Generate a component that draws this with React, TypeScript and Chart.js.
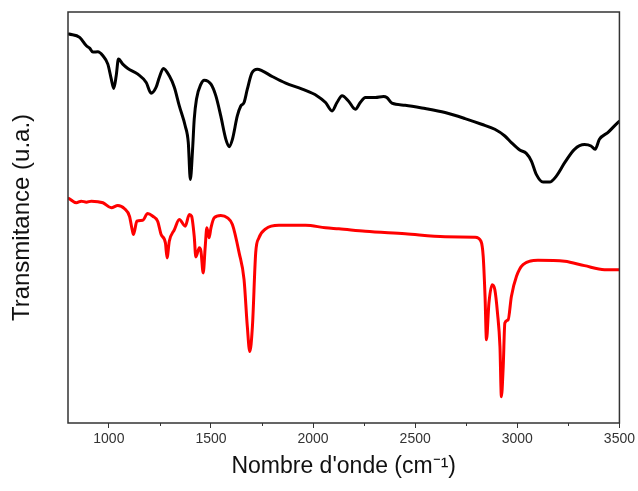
import React, { useEffect, useRef } from "react";
import { Chart, registerables } from "chart.js";

Chart.register(...registerables);

// Tick values (cm-1)
const X_TICKS = [1000, 1500, 2000, 2500, 3000, 3500];
const X_MINOR_TICKS = [1250, 1750, 2250, 2750, 3250];

// Black spectrum (wavenumber, transmittance u.a.)
const BLACK_X = [805, 857, 890, 906, 922, 946, 971, 995, 1012, 1024, 1036, 1047, 1068, 1093, 1142, 1183, 1207, 1231, 1247, 1267, 1296, 1321, 1345, 1374, 1389, 1399, 1410, 1418, 1429, 1451, 1467, 1500, 1524, 1548, 1573, 1589, 1605, 1629, 1646, 1662, 1678, 1700, 1727, 1751, 1800, 1866, 1947, 2020, 2061, 2093, 2117, 2142, 2174, 2207, 2231, 2256, 2305, 2345, 2361, 2386, 2451, 2549, 2646, 2744, 2825, 2890, 2939, 2971, 3012, 3044, 3069, 3093, 3126, 3158, 3191, 3232, 3280, 3329, 3361, 3381, 3402, 3443, 3492, 3500];
const BLACK_Y = [388, 384.7, 376.3, 374, 370, 370.3, 366.3, 358, 343, 333.7, 346.3, 363, 358, 353.7, 348, 339.7, 329, 334.7, 344.7, 353.7, 346.3, 334.7, 316.3, 296.3, 279.7, 243, 273, 303, 323, 338, 342, 338, 326.3, 306.3, 283, 275.7, 283, 306.3, 316.3, 319.7, 333, 349, 353, 351.3, 345.7, 339, 333, 326.3, 319.7, 311.3, 319.7, 326.5, 321, 313, 319.7, 324.7, 324.7, 325.7, 324.7, 319, 317, 313.7, 309.7, 303.7, 298, 293, 286.3, 279.7, 272.3, 269, 261.3, 248, 240.3, 240.3, 246.3, 259.7, 273, 277.7, 276.3, 273, 283, 289.7, 299.7, 301];

// Red spectrum (wavenumber, transmittance u.a.)
const RED_X = [805, 841, 865, 890, 914, 971, 1012, 1044, 1077, 1101, 1114, 1121, 1137, 1166, 1190, 1215, 1239, 1256, 1277, 1285, 1296, 1321, 1345, 1374, 1394, 1405, 1418, 1426, 1443, 1451, 1462, 1472, 1480, 1491, 1500, 1516, 1548, 1581, 1605, 1638, 1662, 1678, 1690, 1703, 1719, 1735, 1768, 1833, 1963, 2061, 2126, 2256, 2451, 2646, 2793, 2822, 2833, 2842, 2849, 2861, 2877, 2890, 2903, 2915, 2922, 2931, 2939, 2955, 2971, 2996, 3028, 3101, 3232, 3329, 3427, 3492, 3500];
const RED_Y = [224, 219.7, 221.3, 220.3, 221.3, 219.7, 214.7, 217, 213.7, 206.3, 193, 188, 201.3, 202.3, 209, 206.3, 201.3, 188, 179.7, 164.7, 181.3, 193, 203, 196.3, 208, 206.3, 186.3, 165.7, 174.7, 171.3, 149.7, 176.3, 194.7, 184.7, 194.7, 204.7, 207, 204.7, 198, 169.7, 143, 96.3, 71.3, 96.3, 169.7, 184.7, 193.7, 197.3, 197.3, 194.7, 193.7, 191.3, 188.7, 185.7, 185.3, 181.3, 166.3, 126.3, 83, 119.7, 138, 133, 109.7, 76.3, 26.3, 56.3, 99.7, 103, 126.3, 146.3, 158, 162.3, 161.3, 157, 153, 153, 153];

const X_MIN = 800;
const X_MAX = 3500;
const Y_MIN = 0;
const Y_MAX = 410;

const FONT = "'Liberation Sans', Arial, sans-serif";

const framePlugin = {
  id: "frame",
  afterDraw(chart: any) {
    const { ctx, chartArea } = chart;
    const xs = chart.scales.x;
    ctx.save();
    ctx.strokeStyle = "#333";
    ctx.lineWidth = 1.5;
    ctx.strokeRect(chartArea.left, chartArea.top, chartArea.right - chartArea.left, chartArea.bottom - chartArea.top);
    ctx.lineWidth = 1;
    ctx.beginPath();
    for (const v of X_MINOR_TICKS) {
      const px = Math.round(xs.getPixelForValue(v)) + 0.5;
      ctx.moveTo(px, chartArea.bottom);
      ctx.lineTo(px, chartArea.bottom + 3);
    }
    ctx.stroke();
    ctx.restore();
  },
};

export default function App() {
  const ref = useRef<HTMLCanvasElement | null>(null);

  useEffect(() => {
    document.body.style.margin = "0";
    const canvas = ref.current;
    if (!canvas) return;
    const lineStyle = {
      borderWidth: 3,
      pointRadius: 0,
      cubicInterpolationMode: "monotone" as const,
      borderJoinStyle: "round" as const,
      borderCapStyle: "round" as const,
      fill: false,
    };
    const chart = new Chart(canvas, {
      type: "line",
      data: {
        datasets: [
          {
            label: "black",
            data: BLACK_X.map((x, i) => ({ x, y: BLACK_Y[i] })),
            borderColor: "#000000",
            ...lineStyle,
          },
          {
            label: "red",
            data: RED_X.map((x, i) => ({ x, y: RED_Y[i] })),
            borderColor: "#ff0000",
            ...lineStyle,
          },
        ],
      },
      options: {
        responsive: false,
        animation: false,
        devicePixelRatio: 1,
        layout: { padding: { top: 12, right: 16, left: 0, bottom: 0 } },
        plugins: {
          legend: { display: false },
          tooltip: { enabled: false },
        },
        scales: {
          x: {
            type: "linear",
            min: X_MIN,
            max: X_MAX,
            afterBuildTicks: (scale: any) => {
              scale.ticks = X_TICKS.map((v) => ({ value: v }));
            },
            afterFit: (scale: any) => {
              scale.height = 68;
            },
            grid: {
              display: true,
              drawOnChartArea: false,
              drawTicks: true,
              tickLength: 5,
              color: "#333",
              lineWidth: 1,
            },
            border: { display: false },
            ticks: {
              color: "#333",
              font: { family: FONT, size: 14 },
              padding: 3,
              maxRotation: 0,
              callback: (v: any) => String(v),
            },
            title: {
              display: true,
              text: "Nombre d'onde (cm\u207B\u00B9)",
              color: "#111",
              font: { family: FONT, size: 23 },
              padding: { top: 0, bottom: 11 },
            },
          },
          y: {
            type: "linear",
            min: Y_MIN,
            max: Y_MAX,
            afterFit: (scale: any) => {
              scale.width = 68;
            },
            grid: { display: false },
            border: { display: false },
            ticks: { display: false },
            title: {
              display: true,
              text: "Transmitance (u.a.)",
              color: "#111",
              font: { family: FONT, size: 24 },
              padding: { top: 8, bottom: 0 },
            },
          },
        },
      },
      plugins: [framePlugin],
    });
    return () => chart.destroy();
  }, []);

  return (
    <div style={{ position: "absolute", left: 0, top: 0, width: 638, height: 491, background: "#fff" }}>
      <canvas ref={ref} width={638} height={491} />
    </div>
  );
}
